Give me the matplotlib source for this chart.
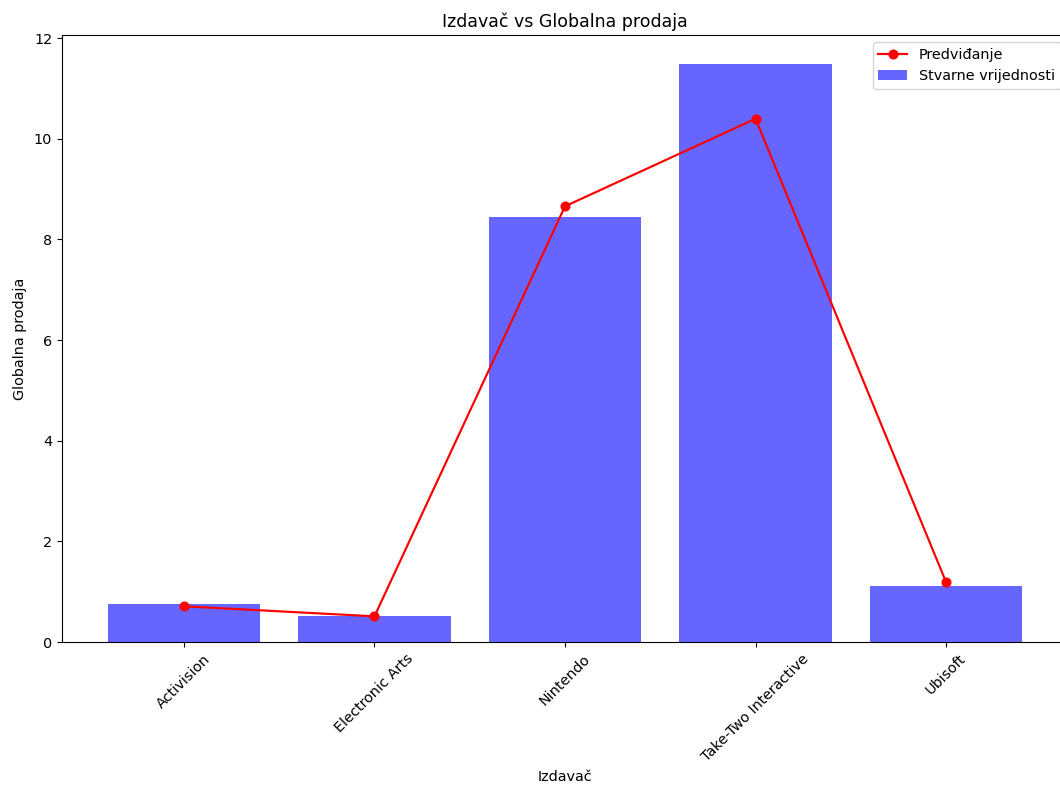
import matplotlib
matplotlib.use("Agg")
import matplotlib.pyplot as plt

publishers = ["Activision", "Electronic Arts", "Nintendo", "Take-Two Interactive", "Ubisoft"]
actual = [0.76, 0.52, 8.45, 11.49, 1.12]
predicted = [0.71, 0.51, 8.66, 10.40, 1.19]

s = 1.04
plt.rcParams["font.size"] = 10 * s
plt.rcParams["lines.markersize"] = 6 * s
plt.rcParams["lines.linewidth"] = 1.5 * s

W, H = 1060, 787
fig = plt.figure(figsize=(W / 100, H / 100), dpi=100)
ax = fig.add_axes([62 / W, 145 / H, (1068 - 62) / W, (642 - 35) / H])

ax.bar(publishers, actual, color="blue", alpha=0.6, label="Stvarne vrijednosti")
ax.plot(publishers, predicted, color="red", marker="o", label="Predviđanje")

ax.set_title("Izdavač vs Globalna prodaja")
ax.set_xlabel("Izdavač")
ax.set_ylabel("Globalna prodaja", labelpad=5)
plt.setp(ax.get_xticklabels(), rotation=45)
ax.legend(loc="upper right")

fig.savefig("out.png", dpi=100)
